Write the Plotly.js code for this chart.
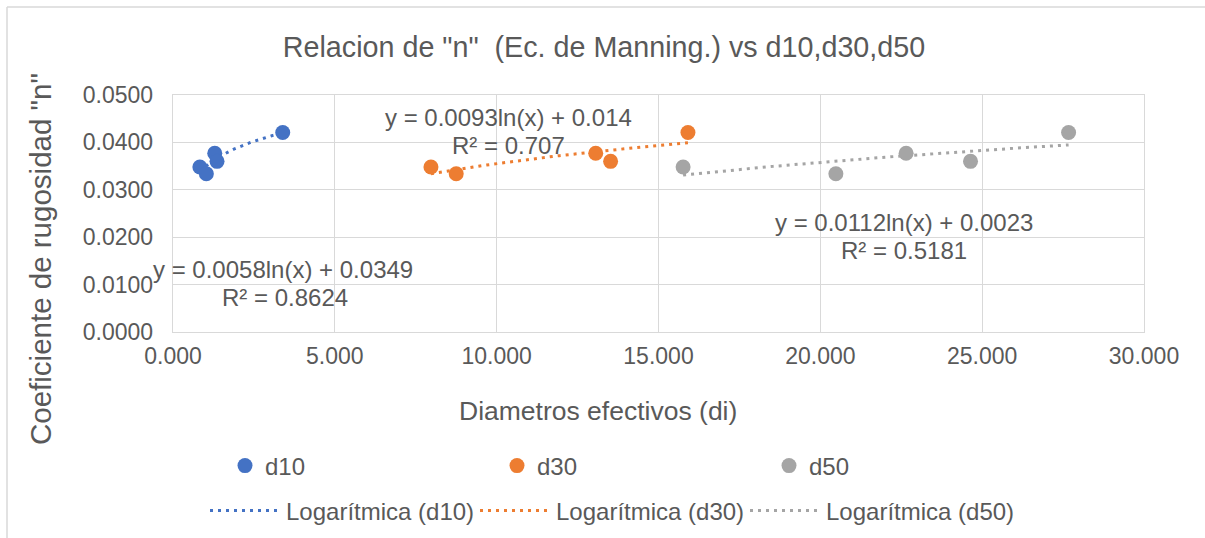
<!DOCTYPE html>
<html>
<head>
<meta charset="utf-8">
<script src="https://cdn.plot.ly/plotly-3.0.1.min.js"></script>
<style>
  html, body { margin: 0; padding: 0; background: #fff; }
  #chart { width: 1205px; height: 538px; }
</style>
</head>
<body>
<div id="chart"></div>
<script>
// ---- data ----
const d10 = [0.83, 1.03, 1.29, 1.36, 3.39];
const d30 = [7.97, 8.75, 13.06, 13.52, 15.91];
const d50 = [15.76, 20.48, 22.65, 24.64, 27.67];
const nValues = [0.0348, 0.0334, 0.0377, 0.0360, 0.0421];

const seriesNames = ['d10', 'd30', 'd50'];
const trendNames = ['Logarítmica (d10)', 'Logarítmica (d30)', 'Logarítmica (d50)'];
const equations = ['y = 0.0058ln(x) + 0.0349', 'y = 0.0093ln(x) + 0.014', 'y = 0.0112ln(x) + 0.0023'];
const r2Labels = ['R² = 0.8624', 'R² = 0.707', 'R² = 0.5181'];
const colors = ['#4472C4', '#ED7D31', '#A5A5A5'];

const xSeries = [d10, d30, d50];

// least-squares logarithmic fit (like Excel's trendline)
function logFit(xs, ys) {
  const lx = xs.map(Math.log);
  const n = xs.length;
  const mx = lx.reduce((a, b) => a + b, 0) / n;
  const my = ys.reduce((a, b) => a + b, 0) / n;
  let sxy = 0, sxx = 0;
  for (let i = 0; i < n; i++) { sxy += (lx[i] - mx) * (ys[i] - my); sxx += (lx[i] - mx) ** 2; }
  const a = sxy / sxx;
  const b = my - a * mx;
  const xmin = Math.min(...xs), xmax = Math.max(...xs);
  const tx = [], ty = [];
  const steps = 60;
  for (let i = 0; i <= steps; i++) {
    const x = xmin + (xmax - xmin) * i / steps;
    tx.push(x); ty.push(a * Math.log(x) + b);
  }
  return { x: tx, y: ty };
}

const FONT = '"Liberation Sans", Arial, sans-serif';
const TXT = '#595959';

const markerTraces = [];
const trendTraces = [];
xSeries.forEach((xs, i) => {
  markerTraces.push({
    type: 'scatter', mode: 'markers', name: seriesNames[i],
    x: xs, y: nValues,
    marker: { color: colors[i], size: 15 },
    legend: 'legend', cliponaxis: false
  });
  const f = logFit(xs, nValues);
  trendTraces.push({
    type: 'scatter', mode: 'lines', name: trendNames[i],
    x: f.x, y: f.y,
    line: { color: colors[i], width: 3, dash: '3px,5px' },
    legend: 'legend2'
  });
});
// trendlines drawn under the markers
const ordered = trendTraces.concat(markerTraces);

const annPos = [
  { eq: [3.40, 0.0131], r2: [3.45, 0.0072] },
  { eq: [10.36, 0.0453], r2: [10.38, 0.0394] },
  { eq: [22.60, 0.0230], r2: [22.60, 0.0173] }
];
const annotations = [];
annPos.forEach((p, i) => {
  annotations.push({ x: p.eq[0], y: p.eq[1], xref: 'x', yref: 'y', text: equations[i], showarrow: false,
    font: { family: FONT, size: 24, color: TXT } });
  annotations.push({ x: p.r2[0], y: p.r2[1], xref: 'x', yref: 'y', text: r2Labels[i], showarrow: false,
    font: { family: FONT, size: 24, color: TXT } });
});
// axis titles (placed like the original, off-centre)
annotations.push({ xref: 'paper', yref: 'paper', x: (598 - 173) / 971, y: (332 - 411) / 237,
  text: 'Diametros efectivos (di)', showarrow: false, xanchor: 'center', yanchor: 'middle',
  font: { family: FONT, size: 26.5, color: TXT } });
annotations.push({ xref: 'paper', yref: 'paper', x: (40 - 173) / 971, y: (332 - 259) / 237,
  text: 'Coeficiente de rugosidad "n"', showarrow: false, textangle: -90, xanchor: 'center', yanchor: 'middle',
  font: { family: FONT, size: 29.5, color: TXT } });

const W = 1205, H = 538;
const layout = {
  width: W, height: H,
  margin: { l: 173, r: 61, t: 95, b: 206 },
  paper_bgcolor: '#fff', plot_bgcolor: '#fff',
  font: { family: FONT, color: TXT },
  title: { text: 'Relacion de "n"  (Ec. de Manning.) vs d10,d30,d50',
    font: { family: FONT, size: 28.7, color: TXT },
    x: (604 - 173) / 971, xref: 'paper', xanchor: 'center',
    y: (H - 47) / H, yref: 'container', yanchor: 'middle' },
  xaxis: { range: [0, 30], dtick: 5, tick0: 0, tickformat: '.3f', showgrid: true, gridcolor: '#d9d9d9', gridwidth: 1.3,
    zeroline: false, showline: true, mirror: true, linecolor: '#d9d9d9', linewidth: 1.3,
    ticks: '', ticklabelstandoff: 3, tickfont: { family: FONT, size: 23, color: TXT }, fixedrange: true },
  yaxis: { range: [0, 0.05], dtick: 0.01, tick0: 0, tickformat: '.4f', showgrid: true, gridcolor: '#d9d9d9', gridwidth: 1.3,
    zeroline: false, showline: true, mirror: true, linecolor: '#d9d9d9', linewidth: 1.3,
    ticks: '', ticklabelstandoff: 14, tickfont: { family: FONT, size: 23, color: TXT }, fixedrange: true },
  showlegend: true,
  legend: { orientation: 'h', xref: 'container', yref: 'container',
    x: 225 / W, xanchor: 'left', y: 1 - 466 / H, yanchor: 'middle',
    entrywidth: 227, entrywidthmode: 'pixels', itemwidth: 30, traceorder: 'normal',
    font: { family: FONT, size: 24, color: TXT }, bgcolor: 'rgba(0,0,0,0)' },
  legend2: { orientation: 'h', xref: 'container', yref: 'container',
    x: 205 / W, xanchor: 'left', y: 1 - 511 / H, yanchor: 'middle',
    entrywidth: 184, entrywidthmode: 'pixels', itemwidth: 71, traceorder: 'normal',
    font: { family: FONT, size: 24, color: TXT }, bgcolor: 'rgba(0,0,0,0)' },
  annotations: annotations,
  shapes: [
    { type: 'line', xref: 'paper', yref: 'paper', x0: (7 - 173) / 971, x1: (1210 - 173) / 971,
      y0: (332 - 7) / 237, y1: (332 - 7) / 237, line: { color: '#d9d9d9', width: 1.5 } },
    { type: 'line', xref: 'paper', yref: 'paper', x0: (7 - 173) / 971, x1: (7 - 173) / 971,
      y0: (332 - 7) / 237, y1: (332 - 545) / 237, line: { color: '#d9d9d9', width: 1.5 } }
  ]
};

Plotly.newPlot('chart', ordered, layout, { displayModeBar: false, staticPlot: true });
</script>
</body>
</html>
